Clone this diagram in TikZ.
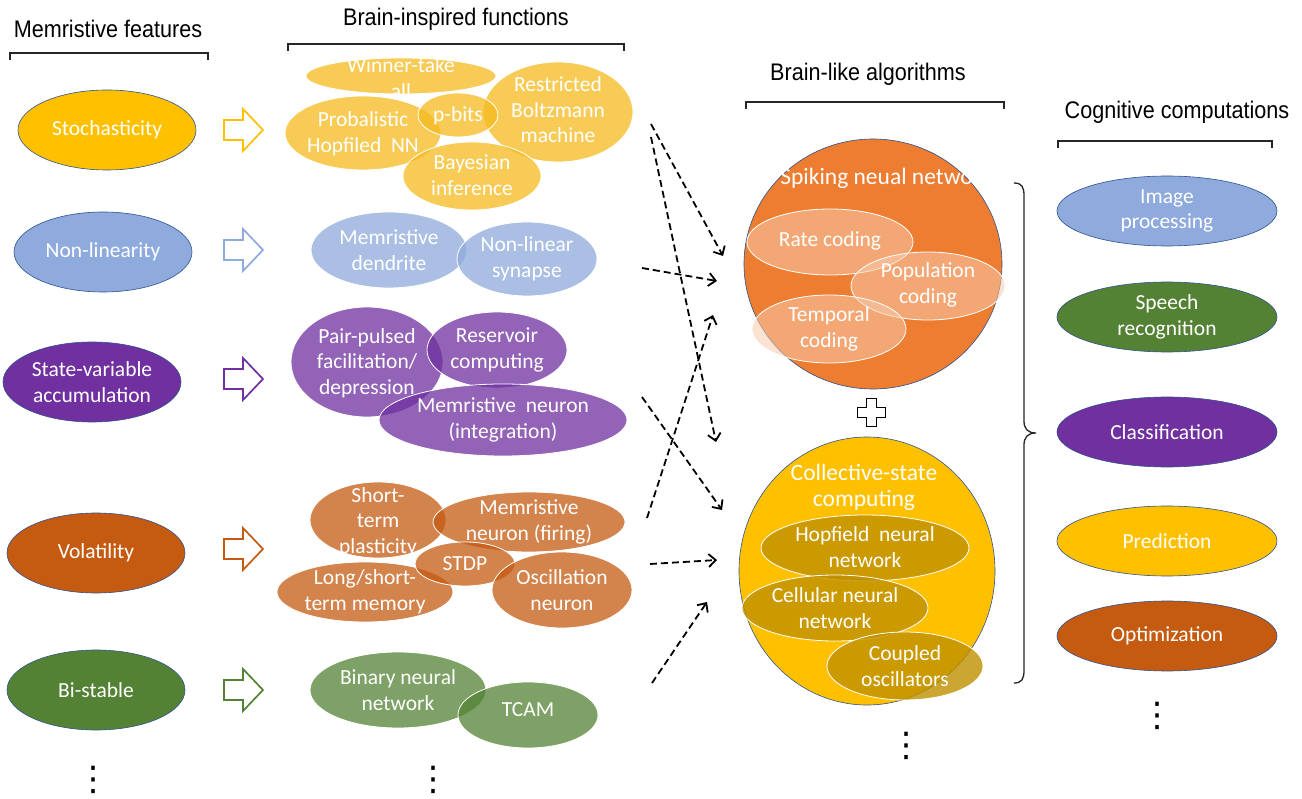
\documentclass[tikz,border=0pt]{standalone}
\usepackage{fontspec}
\setmainfont{Carlito}
\newfontfamily\hdr[FakeStretch=0.9]{Liberation Sans}
\newfontfamily\dvs{DejaVu Sans}
\usetikzlibrary{shapes.geometric,arrows.meta}
\definecolor{cgold}{HTML}{FFC000}
\definecolor{cblue}{HTML}{8FAADC}
\definecolor{cpurple}{HTML}{7030A0}
\definecolor{corange}{HTML}{C55A11}
\definecolor{cgreen}{HTML}{548235}
\definecolor{cborder}{HTML}{2F528F}
\definecolor{csnn}{HTML}{ED7D31}
\definecolor{cyelb}{HTML}{F5BA1E}
\definecolor{cpeach}{HTML}{F8CBAD}
\definecolor{cdgold}{HTML}{BF9000}
\tikzset{
  wh/.style 2 args={minimum width=#1pt, minimum height=#2pt},
  feat/.style={ellipse, draw=cborder, line width=0.6pt, inner sep=0pt, wh={178}{80}},
  comp/.style={ellipse, draw=cborder, line width=0.6pt, inner sep=0pt, wh={220}{70}},
  bub/.style={ellipse, draw=white, line width=0.8pt, fill opacity=0.75, inner sep=0pt},
  lbl/.style={text=white, align=center, inner sep=0pt, font=\fontsize{21.5}{25.5}\selectfont},
  ttl/.style={text=white, align=center, inner sep=0pt, font=\fontsize{23.5}{26}\selectfont},
  hdrtxt/.style={font=\hdr\fontsize{24}{28}\selectfont, inner sep=0pt},
  bracketline/.style={line width=1.3pt, black!85},
  dasharrow/.style={line width=1.8pt, dash pattern=on 7pt off 4pt, -{Straight Barb[length=7pt,width=13pt,line width=1.8pt]}},
  dotsnode/.style={font=\dvs\fontsize{34}{36}\selectfont, inner sep=0pt},
  harrow/.pic={\draw[line width=1.7pt, fill=white] (0,-10)--(19,-10)--(19,-21)--(39,0)--(19,21)--(19,10)--(0,10)--cycle;}
}
\begin{document}
\begin{tikzpicture}[x=1pt,y=-1pt]
\useasboundingbox[fill=white] (0,0) rectangle (1302,799);

% ---------- headers ----------
\node[hdrtxt] (h1) at (108,29) {Memristive features};
\node[hdrtxt] (h2) at (456,19) {Brain-inspired functions};
\node[hdrtxt] (h3) at (868,74) {Brain-like algorithms};
\node[hdrtxt] (h4) at (1177,112) {Cognitive computations};
\draw[bracketline] (10,60) -- (10,53) -- (208,53) -- (208,60);
\draw[bracketline] (288,51) -- (288,44) -- (624,44) -- (624,51);
\draw[bracketline] (746,109) -- (746,102) -- (1004,102) -- (1004,109);
\draw[bracketline] (1058,148) -- (1058,141) -- (1272,141) -- (1272,148);

% ---------- memristive features ----------
\node[feat, fill=cgold]   (stoch)  at (107,130) {};
\node[feat, fill=cblue]   (nonlin) at (103,252) {};
\node[feat, fill=cpurple] (state)  at (92,382) {};
\node[feat, fill=corange] (volat)  at (96,553) {};
\node[feat, fill=cgreen]  (bistab) at (96,690) {};
\node[lbl] (tstoch)  at (stoch)  {Stochasticity};
\node[lbl] (tnonlin) at (nonlin) {Non-linearity};
\node[lbl] (tstate)  at (state)  {State-variable\\accumulation};
\node[lbl] (tvolat)  at (volat)  {Volatility};
\node[lbl] (tbistab) at (bistab) {Bi-stable};

% hollow arrows
\pic[draw=cgold]   at (224,130) {harrow};
\pic[draw=cblue]   at (224,250) {harrow};
\pic[draw=cpurple] at (224,379) {harrow};
\pic[draw=corange] at (224,549) {harrow};
\pic[draw=cgreen]  at (224,690) {harrow};

% ---------- brain-inspired functions ----------
% yellow
\node[bub, fill=cyelb, wh={190}{36}]  (wta)   at (401,76) {};
\node[bub, fill=cyelb, wh={156}{74}]  (phn)   at (363,133) {};
\node[bub, fill=cyelb, wh={150}{100}] (rbm)   at (558,112) {};
\node[bub, fill=cyelb, wh={80}{44}]   (pbits) at (458,115) {};
\node[bub, fill=cyelb, wh={138}{68}]  (bayes) at (472,176) {};
% blue
\node[bub, fill=cblue, wh={156}{76}] (dend) at (389,250) {};
\node[bub, fill=cblue, wh={140}{74}] (nls)  at (527,259) {};
% purple
\node[bub, fill=cpurple, wh={152}{110}] (ppf) at (367,362) {};
\node[bub, fill=cpurple, wh={140}{76}]  (res) at (497,350) {};
\node[bub, fill=cpurple, wh={248}{72}]  (mni) at (503,420) {};
% orange
\node[bub, fill=corange, wh={136}{76}] (stp)  at (378,520) {};
\node[bub, fill=corange, wh={192}{60}] (mnf)  at (529,522) {};
\node[bub, fill=corange, wh={176}{60}] (lstm) at (365,592) {};
\node[bub, fill=corange, wh={100}{44}] (stdp) at (465,564) {};
\node[bub, fill=corange, wh={140}{76}] (osc)  at (562,590) {};
% green
\node[bub, fill=cgreen, wh={176}{76}] (bnn)  at (398,690) {};
\node[bub, fill=cgreen, wh={140}{66}] (tcam) at (528,715) {};

\node[lbl] (twta)   at (401,78)  {Winner-take\\all};
\node[lbl] (tphn)   at (363,134) {Probalistic\\Hopfiled~~NN};
\node[lbl] (trbm)   at (558,110) {Restricted\\Boltzmann\\machine};
\node[lbl] (tpbits) at (458,116) {p-bits};
\node[lbl] (tbayes) at (472,175) {Bayesian\\inference};
\node[lbl] (tdend)  at (389,250) {Memristive\\dendrite};
\node[lbl] (tnls)   at (527,259) {Non-linear\\synapse};
\node[lbl] (tppf)   at (367,363) {Pair-pulsed\\facilitation/\\depression};
\node[lbl] (tres)   at (497,350) {Reservoir\\computing};
\node[lbl] (tmni)   at (503,420) {Memristive~~neuron\\(integration)};
\node[lbl] (tstp)   at (378,522) {Short-\\term\\plasticity};
\node[lbl] (tmnf)   at (529,522) {Memristive\\neuron~(firing)};
\node[lbl] (tlstm)  at (365,592) {Long/short-\\term memory};
\node[lbl] (tstdp)  at (465,564) {STDP};
\node[lbl] (tosc)   at (562,590) {Oscillation\\neuron};
\node[lbl] (tbnn)   at (398,690) {Binary neural\\network};
\node[lbl] (ttcam)  at (528,710) {TCAM};

% ---------- brain-like algorithms ----------
\node[ellipse, draw=cborder, line width=0.6pt, fill=csnn, inner sep=0pt, wh={258}{250}] (snn) at (873,264) {};
\node[bub, fill=cpeach, fill opacity=0.55, wh={166}{66}] (rate) at (830,242) {};
\node[bub, fill=cpeach, fill opacity=0.55, wh={154}{68}] (pop)  at (928,286) {};
\node[bub, fill=cpeach, fill opacity=0.55, wh={154}{68}] (temp) at (829,329) {};
\node[ttl] (tsnn) at (886,178) {Spiking neual network};
\node[lbl] (trate) at (830,241) {Rate coding};
\node[lbl] (tpop)  at (928,285) {Population\\coding};
\node[lbl] (ttemp) at (829,329) {Temporal\\coding};

\draw[line width=1pt, fill=white] (866,399)--(876,399)--(876,408)--(885,408)--(885,418)--(876,418)--(876,427)--(866,427)--(866,418)--(857,418)--(857,408)--(866,408)--cycle;

\node[ellipse, draw=cborder, line width=0.6pt, fill=cgold, inner sep=0pt, wh={256}{268}] (csc) at (867,571) {};
\node[bub, fill=cdgold, fill opacity=0.8, wh={208}{66}] (hop)  at (865,548) {};
\node[bub, fill=cdgold, fill opacity=0.8, wh={186}{66}] (cell) at (835,608) {};
\node[bub, fill=cdgold, fill opacity=0.8, wh={156}{68}] (coup) at (905,666) {};
\node[ttl] (tcsc)  at (864,487) {Collective-state\\computing};
\node[lbl] (thop)  at (865,547) {Hopfield~~neural\\network};
\node[lbl] (tcell) at (835,608) {Cellular neural\\network};
\node[lbl] (tcoup) at (905,666) {Coupled\\oscillators};

% dashed connectors
\coordinate (a1s) at (651,124); \coordinate (a1e) at (723,256);
\coordinate (a2s) at (651,137); \coordinate (a2e) at (716,442);
\coordinate (a3s) at (642,268); \coordinate (a3e) at (717,281);
\coordinate (a4s) at (647,518); \coordinate (a4e) at (713,315);
\coordinate (a5s) at (642,397); \coordinate (a5e) at (722,510);
\coordinate (a6s) at (650,564); \coordinate (a6e) at (717,560);
\coordinate (a7s) at (652,683); \coordinate (a7e) at (707,602);
\draw[dasharrow] (a1s) -- (a1e);
\draw[dasharrow] (a2s) -- (a2e);
\draw[dasharrow] (a3s) -- (a3e);
\draw[dasharrow] (a4s) -- (a4e);
\draw[dasharrow] (a5s) -- (a5e);
\draw[dasharrow] (a6s) -- (a6e);
\draw[dasharrow] (a7s) -- (a7e);

% brace
\draw[line width=1.3pt, black!85] (1014,183) .. controls (1022,183) and (1024,187) .. (1024,196) -- (1024,421) .. controls (1024,429) and (1028,433) .. (1036,433) .. controls (1028,433) and (1024,437) .. (1024,445) -- (1024,670) .. controls (1024,679) and (1022,683) .. (1014,683);

% ---------- cognitive computations ----------
\node[comp, fill=cblue]   (img)    at (1167,211) {};
\node[comp, fill=cgreen]  (speech) at (1167,317) {};
\node[comp, fill=cpurple] (class)  at (1167,432) {};
\node[comp, fill=cgold]   (pred)   at (1167,541) {};
\node[comp, fill=corange] (opt)    at (1167,636) {};
\node[lbl] (timg)    at (img)    {Image\\processing};
\node[lbl] (tspeech) at (speech) {Speech\\recognition};
\node[lbl] (tclass)  at (class)  {Classification};
\node[lbl] (tpred)   at (pred)   {Prediction};
\node[lbl] (topt)    at (opt)    {Optimization};

% dots
\node[dotsnode] (d1) at (93,780) {⋮};
\node[dotsnode] (d2) at (433,780) {⋮};
\node[dotsnode] (d3) at (906,746) {⋮};
\node[dotsnode] (d4) at (1157,716) {⋮};
\end{tikzpicture}
\end{document}
